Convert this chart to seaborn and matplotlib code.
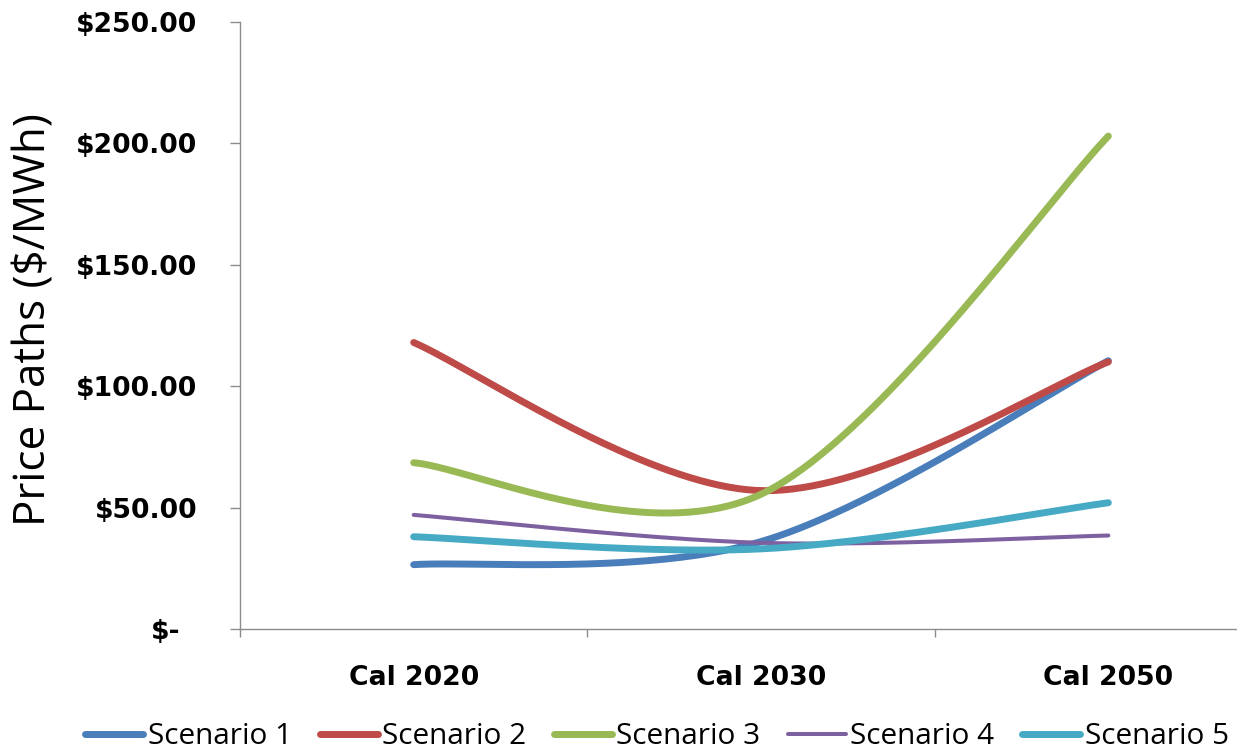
import numpy as np
import pandas as pd
import matplotlib
matplotlib.use("Agg")
import matplotlib.pyplot as plt
from matplotlib.transforms import ScaledTranslation
import seaborn as sns

# ---- data -------------------------------------------------------------
periods = ["Cal 2020", "Cal 2030", "Cal 2050"]
scenarios = ["Scenario 1", "Scenario 2", "Scenario 3", "Scenario 4", "Scenario 5"]
scenario_1 = [26.5, 36.0, 110.5]
scenario_2 = [118.0, 57.0, 110.0]
scenario_3 = [68.5, 55.5, 203.0]
scenario_4 = [47.0, 35.5, 38.5]
scenario_5 = [38.0, 33.0, 52.0]
y_ticks = [0, 50, 100, 150, 200, 250]
y_tick_labels = ["$-", "$50.00", "$100.00", "$150.00", "$200.00", "$250.00"]

series = dict(zip(scenarios, [scenario_1, scenario_2, scenario_3, scenario_4, scenario_5]))
colors = dict(zip(scenarios, ["#4A7EBB", "#BE4B48", "#98B954", "#7D60A0", "#46AAC5"]))
widths = dict(zip(scenarios, [5.0, 5.0, 5.0, 2.9, 5.0]))


def smooth_path(values, steps=80):
    """Spreadsheet-style smoothed line: cubic Bezier segments with
    Catmull-Rom control points (tension 1/6) through each value."""
    pts = np.column_stack([np.arange(len(values), dtype=float), np.asarray(values, float)])
    n = len(pts)
    xs, ys = [], []
    t = np.linspace(0, 1, steps)[:, None]
    for i in range(n - 1):
        p0 = pts[max(i - 1, 0)]
        p1 = pts[i]
        p2 = pts[i + 1]
        p3 = pts[min(i + 2, n - 1)]
        c1 = p1 + (p2 - p0) / 6.0
        c2 = p2 - (p3 - p1) / 6.0
        seg = ((1 - t) ** 3) * p1 + 3 * ((1 - t) ** 2) * t * c1 + 3 * (1 - t) * t ** 2 * c2 + t ** 3 * p2
        if i > 0:
            seg = seg[1:]
        xs.append(seg[:, 0])
        ys.append(seg[:, 1])
    return np.concatenate(xs), np.concatenate(ys)


frames = []
for name in scenarios:
    sx, sy = smooth_path(series[name])
    frames.append(pd.DataFrame({"x": sx, "y": sy, "scenario": name, "order": np.arange(len(sx))}))
curves = pd.concat(frames, ignore_index=True)

# ---- figure -------------------------------------------------------------
sns.set_style("white")
plt.rcParams["text.color"] = "black"
W, H = 1237, 751
fig = plt.figure(figsize=(W / 100, H / 100), dpi=100)
ax_left, ax_right, ax_top, ax_bottom = 240, 1282, 22, 629
ax = fig.add_axes([ax_left / W, (H - ax_bottom) / H, (ax_right - ax_left) / W, (ax_bottom - ax_top) / H])

sns.lineplot(data=curves, x="x", y="y", hue="scenario", size="scenario",
             hue_order=scenarios, size_order=scenarios,
             palette=colors, sizes=widths, sort=False, estimator=None,
             legend=False, ax=ax, solid_capstyle="round")

ax.set_xlim(-0.5, len(periods) - 0.5)
ax.set_ylim(0, 250)

axis_gray = "#8C8C8C"
for side in ["top", "right"]:
    ax.spines[side].set_visible(False)
for side in ["left", "bottom"]:
    ax.spines[side].set_color(axis_gray)
    ax.spines[side].set_linewidth(1.0)

tick_font = dict(fontfamily="DejaVu Sans", fontweight="bold", fontsize=19.2, color="black")

ax.set_yticks(y_ticks)
ax.set_yticklabels(y_tick_labels, **tick_font)
ax.tick_params(axis="y", left=True, direction="out", length=7.2, width=1.0,
               color=axis_gray, labelcolor="black", pad=23.5)
zero_label = ax.yaxis.get_majorticklabels()[0]
zero_label.set_transform(zero_label.get_transform() + ScaledTranslation(-0.17, 0, fig.dpi_scale_trans))

ax.set_xticks(range(len(periods)))
ax.set_xticklabels(periods, **tick_font)
ax.set_xticks(np.arange(-0.5, len(periods), 1.0), minor=True)
ax.tick_params(axis="x", which="major", bottom=True, length=0, pad=26, labelcolor="black")
ax.tick_params(axis="x", which="minor", bottom=True, direction="out", length=5.8, width=1.0, color=axis_gray)

ax.set_xlabel("")
ax.set_ylabel("Price Paths ($/MWh)", fontfamily="Open Sans", fontsize=31.7, color="black")
ax.yaxis.set_label_coords(57 / W, (H - 320) / H, transform=fig.transFigure)

handles = ax.get_lines()[:len(scenarios)]
fig.legend(handles, scenarios, loc="center", bbox_to_anchor=(657 / W, (H - 737) / H),
           ncol=5, frameon=False, prop={"family": "Open Sans", "size": 21.4},
           handlelength=1.95, handletextpad=0.15, columnspacing=0.93, borderpad=0, borderaxespad=0)

fig.savefig("out.png", dpi=100)
